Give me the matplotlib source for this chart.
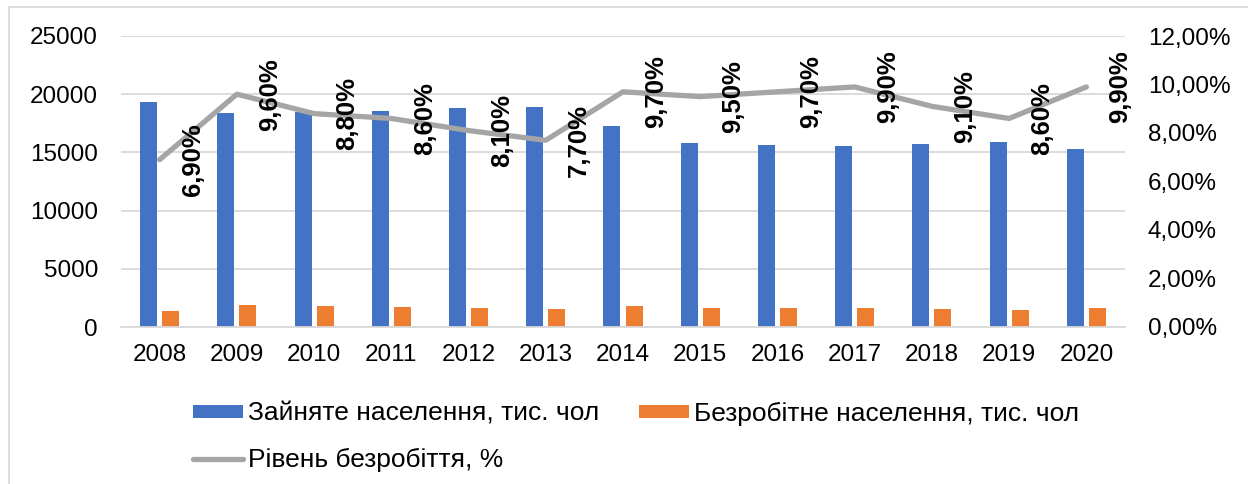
import matplotlib.pyplot as plt
import numpy as np
from matplotlib.lines import Line2D
from matplotlib.patches import Patch
from matplotlib.ticker import FuncFormatter, MultipleLocator

plt.rcParams["font.family"] = ["Liberation Sans", "DejaVu Sans"]

# ---- data ----
years = ["2008", "2009", "2010", "2011", "2012", "2013", "2014",
         "2015", "2016", "2017", "2018", "2019", "2020"]
employed = [19310, 18390, 18470, 18560, 18790, 18930, 17240,
            15780, 15660, 15520, 15740, 15920, 15290]
unemployed = [1405, 1920, 1780, 1720, 1600, 1550, 1840,
              1660, 1660, 1660, 1550, 1430, 1660]
unemp_rate = [6.9, 9.6, 8.8, 8.6, 8.1, 7.7, 9.7, 9.5, 9.7, 9.9, 9.1, 8.6, 9.9]

label_employed = "Зайняте населення, тис. чол"
label_unemployed = "Безробітне населення, тис. чол"
label_rate = "Рівень безробіття, %"

BLUE = "#4472C4"
ORANGE = "#ED7D31"
GRAY = "#A5A5A5"
GRID = "#D9D9D9"
FS = 17.5        # tick labels
FS_LABEL = 18.5  # bold data labels
FS_LEGEND = 19


def pct_fmt(v, _pos):
    return f"{v:.2f}".replace(".", ",") + "%"


fig = plt.figure(figsize=(12.48, 4.84), dpi=100)
ax = fig.add_axes([121 / 1248, 1 - 327 / 484, (1125 - 121) / 1248, (327 - 36) / 484])

x = np.arange(len(years))
w = 0.22
ax.bar(x - 0.143, employed, w, color=BLUE, zorder=2)
ax.bar(x + 0.143, unemployed, w, color=ORANGE, zorder=2)

ax.set_xlim(-0.5, len(years) - 0.5)
ax.set_ylim(0, 25000)
ax.yaxis.set_major_locator(MultipleLocator(5000))
ax.set_xticks(x, years)
ax.grid(axis="y", color=GRID, linewidth=1.3, zorder=0)
ax.tick_params(axis="both", length=0, labelsize=FS)
ax.tick_params(axis="x", pad=12)
ax.tick_params(axis="y", pad=16.5)
for side in ["top", "left", "right"]:
    ax.spines[side].set_visible(False)
ax.spines["bottom"].set_color(GRID)
ax.spines["bottom"].set_linewidth(1.3)

ax2 = ax.twinx()
ax2.plot(x, unemp_rate, color=GRAY, linewidth=3.8, solid_capstyle="round", zorder=3)
ax2.set_ylim(0, 12)
ax2.yaxis.set_major_locator(MultipleLocator(2))
ax2.yaxis.set_major_formatter(FuncFormatter(pct_fmt))
ax2.tick_params(axis="y", length=0, labelsize=FS, pad=16.5)
for side in ["top", "left", "right", "bottom"]:
    ax2.spines[side].set_visible(False)

for xi, v in zip(x, unemp_rate):
    ax2.annotate(pct_fmt(v, None), (xi, v), xytext=(24, 0), textcoords="offset points",
                 rotation=90, ha="center", va="center", fontsize=FS_LABEL, fontweight="bold",
                 color="black", zorder=4)

handles = [
    Patch(facecolor=BLUE, label=label_employed),
    Line2D([], [], color=GRAY, linewidth=3.8, solid_capstyle="round", label=label_rate),
    Patch(facecolor=ORANGE, label=label_unemployed),
]
fig.legend(handles=handles, ncol=2, loc="center", bbox_to_anchor=(0.5096, 0.097),
           frameon=False, fontsize=FS_LEGEND, handlelength=1.9, handleheight=0.42,
           handletextpad=0.19, columnspacing=1.5, labelspacing=0.85, borderpad=0)

# light chart-area frame (top and left edges visible in the reference)
fig.add_artist(Line2D([8.5 / 1248, 1], [1 - 7 / 484, 1 - 7 / 484], color=GRID, linewidth=1.3))
fig.add_artist(Line2D([8.5 / 1248, 8.5 / 1248], [0, 1 - 7 / 484], color=GRID, linewidth=1.3))

fig.savefig("out.png", dpi=100)
